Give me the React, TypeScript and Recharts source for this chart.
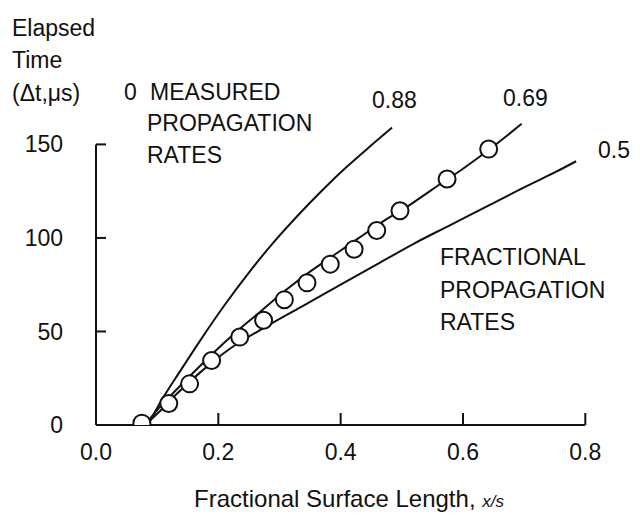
import React from 'react';
import { ComposedChart, Line, Scatter, XAxis, YAxis, ReferenceLine } from 'recharts';

// fractional propagation rate curves
const rate088X = [0.085, 0.105, 0.14, 0.17, 0.21, 0.25, 0.29, 0.33, 0.37, 0.41, 0.45, 0.484];
const rate088Y = [0, 12, 30, 45, 64, 81.5, 97.5, 112, 125.5, 138, 149.5, 159];

const rate069X = [0.08, 0.1, 0.12, 0.15, 0.19, 0.23, 0.27, 0.31, 0.35, 0.39, 0.43, 0.47, 0.51, 0.55, 0.6, 0.65, 0.696];
const rate069Y = [0, 8, 15, 25, 38, 50, 61, 72, 82, 91, 100, 109, 117, 126, 137, 149, 161];

const rate05X = [0.08, 0.1, 0.13, 0.17, 0.22, 0.28, 0.34, 0.4, 0.46, 0.52, 0.58, 0.64, 0.7, 0.75, 0.785];
const rate05Y = [0, 6, 16, 28, 41, 53, 64, 75, 86, 97, 107, 117, 127, 135, 141];

// measured propagation rates (open circles)
const measuredX = [0.075, 0.119, 0.153, 0.189, 0.235, 0.274, 0.308, 0.345, 0.383, 0.422, 0.459, 0.497, 0.574, 0.642];
const measuredY = [1, 11.5, 22, 34.5, 47, 56, 67, 76, 86, 94, 104, 114.5, 131.5, 147.5];

const xTicks = [0, 0.2, 0.4, 0.6, 0.8];
const yTicks = [0, 50, 100, 150];

const toRows = (xs: number[], ys: number[]) => xs.map((x, i) => ({ x, y: ys[i] }));

const INK = '#111';
const FONT = '"Liberation Sans", Arial, sans-serif';
const FS = 23;

const W = 632;
const H = 516;
const X_GAP = 27; // tick label distance below axis
const Y_GAP = 33; // tick label distance left of axis

const XTick = (props: any) => {
  const { x, y, payload } = props;
  const axisY = y - X_GAP;
  return (
    <g>
      {payload.value !== 0 && <line x1={x} y1={axisY} x2={x} y2={axisY - 12} stroke={INK} strokeWidth={2} />}
      <text x={x} y={y} dy="0.35em" textAnchor="middle" fill={INK} fontSize={FS} fontFamily={FONT}>
        {Number(payload.value).toFixed(1)}
      </text>
    </g>
  );
};

const YTick = (props: any) => {
  const { x, y, payload } = props;
  const axisX = x + Y_GAP;
  return (
    <g>
      {payload.value !== 0 && <line x1={axisX} y1={y} x2={axisX + 10} y2={y} stroke={INK} strokeWidth={2} />}
      <text x={x} y={y} dy="0.35em" textAnchor="end" fill={INK} fontSize={FS} fontFamily={FONT}>
        {payload.value}
      </text>
    </g>
  );
};

const OpenCircle = (props: any) => (
  <circle cx={props.cx} cy={props.cy} r={8.5} fill="#fff" stroke={INK} strokeWidth={2} />
);

const txt = { fill: INK, fontSize: FS, fontFamily: FONT } as const;

export default function App() {
  return (
    <div style={{ position: 'relative', width: W, height: H }}>
      <ComposedChart width={W} height={H} margin={{ top: 99, right: 18, left: 0, bottom: 0 }}>
        <XAxis
          type="number"
          dataKey="x"
          domain={[0, 0.86]}
          allowDataOverflow
          ticks={xTicks}
          axisLine={false}
          tickLine={false}
          tickSize={0}
          tickMargin={X_GAP}
          height={99}
          tick={<XTick />}
        />
        <YAxis
          type="number"
          dataKey="y"
          domain={[0, 170]}
          allowDataOverflow
          ticks={yTicks}
          axisLine={false}
          tickLine={false}
          tickSize={0}
          tickMargin={Y_GAP}
          width={88}
          tick={<YTick />}
        />
        <ReferenceLine segment={[{ x: 0, y: 0 }, { x: 0.8, y: 0 }]} stroke={INK} strokeWidth={2} />
        <ReferenceLine segment={[{ x: 0, y: 0 }, { x: 0, y: 150 }]} stroke={INK} strokeWidth={2} />
        <Line data={toRows(rate088X, rate088Y)} dataKey="y" type="monotone" stroke={INK} strokeWidth={2} dot={false} isAnimationActive={false} />
        <Line data={toRows(rate069X, rate069Y)} dataKey="y" type="monotone" stroke={INK} strokeWidth={2} dot={false} isAnimationActive={false} />
        <Line data={toRows(rate05X, rate05Y)} dataKey="y" type="monotone" stroke={INK} strokeWidth={2} dot={false} isAnimationActive={false} />
        <Scatter data={toRows(measuredX, measuredY)} dataKey="y" shape={<OpenCircle />} isAnimationActive={false} />
      </ComposedChart>
      <svg width={W} height={H} style={{ position: 'absolute', left: 0, top: 0, pointerEvents: 'none' }}>
        <text x={4} y={28} {...txt}>Elapsed</text>
        <text x={4} y={60} {...txt}>Time</text>
        <text x={4} y={93} {...txt}>(Δt,μs)</text>
        <text x={116} y={92} {...txt}>0</text>
        <text x={142} y={92} {...txt}>MEASURED</text>
        <text x={139} y={123} {...txt}>PROPAGATION</text>
        <text x={139} y={155} {...txt}>RATES</text>
        <text x={364} y={100} {...txt}>0.88</text>
        <text x={495} y={98} {...txt}>0.69</text>
        <text x={590} y={150} {...txt}>0.5</text>
        <text x={432} y={257} {...txt}>FRACTIONAL</text>
        <text x={432} y={290} {...txt}>PROPAGATION</text>
        <text x={432} y={322} {...txt}>RATES</text>
        <text x={341} y={499} textAnchor="middle" {...txt} fontSize={24}>
          Fractional Surface Length, <tspan fontSize={17} fontStyle="italic">x/s</tspan>
        </text>
      </svg>
    </div>
  );
}
